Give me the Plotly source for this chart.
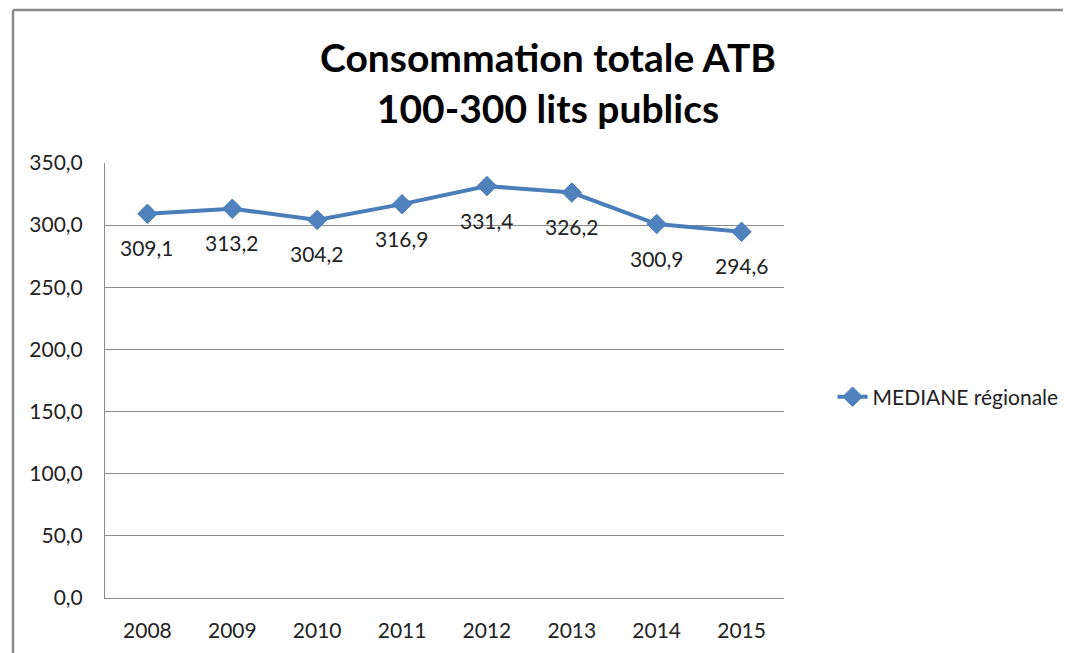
import plotly.graph_objects as go

years = ["2008", "2009", "2010", "2011", "2012", "2013", "2014", "2015"]
mediane = [309.1, 313.2, 304.2, 316.9, 331.4, 326.2, 300.9, 294.6]
labels = ["309,1", "313,2", "304,2", "316,9", "331,4", "326,2", "300,9", "294,6"]
y_ticks = [0, 50, 100, 150, 200, 250, 300, 350]
y_tick_text = ["0,0", "50,0", "100,0", "150,0", "200,0", "250,0", "300,0", "350,0"]

FONT = "Lato, 'Open Sans', sans-serif"
BLUE = "#4a7ebb"
TEXT = "#222"
FRAME = "#8a8a8a"
W, H = 1063, 645

fig = go.Figure()
fig.add_trace(
    go.Scatter(
        x=years,
        y=mediane,
        mode="lines+markers",
        name="MEDIANE régionale",
        line={"color": BLUE, "width": 4},
        marker={"symbol": "diamond", "size": 15, "color": "#4f81bd",
                "line": {"color": BLUE, "width": 1}},
    )
)

# data labels sit well below each point, as in the Excel original
for i, (value, label) in enumerate(zip(mediane, labels)):
    fig.add_annotation(
        x=i, y=value, text=label, showarrow=False,
        yshift=-34, font={"family": FONT, "size": 21, "color": TEXT},
    )

# chart frame: only the left and top edges are inside the window
frame_left, frame_top = -0.1355, 1.3517
fig.add_shape(type="line", xref="paper", yref="paper",
              x0=frame_left, x1=frame_left, y0=-0.5, y1=frame_top,
              line={"color": FRAME, "width": 2.5}, layer="below")
fig.add_shape(type="line", xref="paper", yref="paper",
              x0=frame_left, x1=1.6, y0=frame_top, y1=frame_top,
              line={"color": FRAME, "width": 2.5}, layer="below")

# page body has an 8px margin, so the figure is offset by 8px
fig.update_layout(
    width=W,
    height=H,
    paper_bgcolor="white",
    plot_bgcolor="white",
    margin={"l": 97, "r": 287, "t": 155, "b": 55, "autoexpand": False},
    font={"family": FONT, "size": 21, "color": TEXT},
    title={
        "text": "<b>Consommation totale ATB<br>100-300 lits publics</b>",
        "x": 540 / W, "xanchor": "center", "xref": "container",
        "y": 1 - 64 / H, "yanchor": "middle", "yref": "container",
        "font": {"family": FONT, "size": 39, "color": "black"},
    },
    showlegend=True,
    legend={
        "x": 1.0715, "xanchor": "left", "y": 0.462, "yanchor": "middle",
        "font": {"family": FONT, "size": 21, "color": TEXT},
        "bgcolor": "rgba(0,0,0,0)",
    },
)

fig.update_xaxes(
    type="category",
    range=[-0.5, len(years) - 0.5],
    automargin=False,
    showgrid=False,
    showline=True, linecolor="#8c8c8c", linewidth=1,
    ticks="", ticklabelstandoff=14,
    tickfont={"family": FONT, "size": 21, "color": TEXT},
)
fig.update_yaxes(
    range=[0, 350],
    automargin=False,
    tickvals=y_ticks, ticktext=y_tick_text,
    showgrid=True, gridcolor="#8c8c8c", gridwidth=1,
    showline=True, linecolor="#8c8c8c", linewidth=1,
    zeroline=False,
    ticks="", ticklabelstandoff=17,
    tickfont={"family": FONT, "size": 21, "color": TEXT},
)

fig.write_html("out.html")
